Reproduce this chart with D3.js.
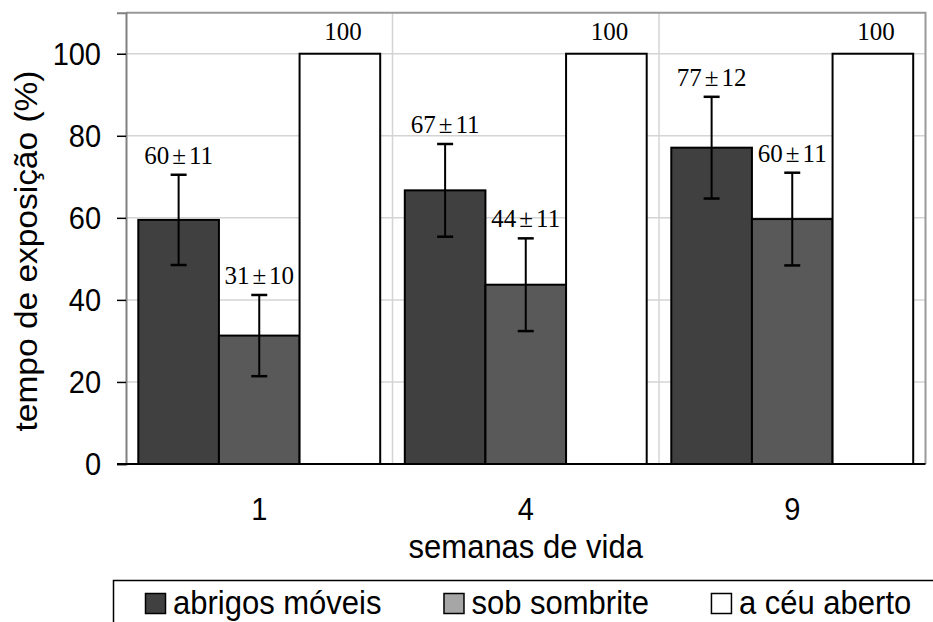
<!DOCTYPE html>
<html>
<head>
<meta charset="utf-8">
<script src="https://cdn.jsdelivr.net/npm/d3@7"></script>
<style>
html,body{margin:0;padding:0;background:#fff;}
svg{display:block;}
</style>
</head>
<body>
<svg id="chart" width="933" height="622"></svg>
<script>
// ---- data ----
const weeks = ["1", "4", "9"];
const seriesNames = ["abrigos móveis", "sob sombrite", "a céu aberto"];
const abrigosMoveis = [59.5, 66.7, 77.1];
const sobSombrite = [31.3, 43.7, 59.7];
const ceuAberto = [100, 100, 100];
const abrigosErr = [11, 11.3, 12.4];
const sombriteErr = [9.9, 11.3, 11.3];
const ceuErr = [0, 0, 0];
const abrigosLabels = ["60±11", "67±11", "77±12"];
const sombriteLabels = ["31±10", "44±11", "60±11"];
const ceuLabels = ["100", "100", "100"];
const yTicks = [0, 20, 40, 60, 80, 100];

// ---- styles ----
const barFill = ["#404040", "#595959", "#ffffff"];
const legendFill = ["#404040", "#a6a6a6", "#ffffff"];
const sans = "'Liberation Sans', Arial, sans-serif";
const serif = "'Liberation Serif', 'Times New Roman', serif";
const VS = 1.08; // vertical stretch of sans text seen in reference

const series = [
  {name: seriesNames[0], values: abrigosMoveis, err: abrigosErr, labels: abrigosLabels},
  {name: seriesNames[1], values: sobSombrite, err: sombriteErr, labels: sombriteLabels},
  {name: seriesNames[2], values: ceuAberto, err: ceuErr, labels: ceuLabels}
];

function stretch(sel) {
  sel.each(function() {
    const t = d3.select(this);
    const tx = +t.attr("x") || 0, ty = +t.attr("y") || 0;
    t.attr("x", 0).attr("y", 0).attr("transform", `translate(${tx},${ty}) scale(1,${VS})`);
  });
}

const svg = d3.select("#chart");
const plot = {left: 126, right: 925.5, top: 12.7, bottom: 464};

const x = d3.scaleBand().domain(weeks).range([plot.left, plot.right]).paddingInner(0).paddingOuter(0);
const xs = d3.scaleBand().domain(d3.range(series.length))
  .range([12.3, x.bandwidth() - 12.3]).paddingInner(0).paddingOuter(0);
const y = d3.scaleLinear().domain([0, 110]).range([plot.bottom, plot.top]);

// horizontal gridlines
svg.append("g").selectAll("line").data(yTicks.filter(d => d > 0)).join("line")
  .attr("x1", plot.left).attr("x2", plot.right)
  .attr("y1", d => y(d)).attr("y2", d => y(d))
  .attr("stroke", "#d4d4d4").attr("stroke-width", 1.5);

// vertical gridlines at category boundaries
svg.append("g").selectAll("line").data(weeks.slice(1)).join("line")
  .attr("x1", d => x(d)).attr("x2", d => x(d))
  .attr("y1", plot.top).attr("y2", plot.bottom)
  .attr("stroke", "#d4d4d4").attr("stroke-width", 1.5);

// frame top and right
svg.append("path")
  .attr("d", `M${plot.left},${plot.top}H${plot.right}V${plot.bottom}`)
  .attr("fill", "none").attr("stroke", "#999").attr("stroke-width", 2);

// bars
const groups = svg.append("g").selectAll("g").data(weeks).join("g")
  .attr("transform", d => `translate(${x(d)},0)`);

groups.each(function(w, i) {
  const g = d3.select(this);
  series.forEach((s, k) => {
    g.append("rect")
      .attr("x", xs(k)).attr("width", xs.bandwidth())
      .attr("y", y(s.values[i])).attr("height", y(0) - y(s.values[i]))
      .attr("fill", barFill[k]).attr("stroke", "#000").attr("stroke-width", 2);
  });
});

// error bars & labels
groups.each(function(w, i) {
  const g = d3.select(this);
  series.forEach((s, k) => {
    const cx = xs(k) + xs.bandwidth() / 2;
    const v = s.values[i], e = s.err[i];
    if (e > 0) {
      g.append("line").attr("x1", cx).attr("x2", cx)
        .attr("y1", y(v + e)).attr("y2", y(v - e))
        .attr("stroke", "#000").attr("stroke-width", 2);
      [v + e, v - e].forEach(t => {
        g.append("line").attr("x1", cx - 8).attr("x2", cx + 8)
          .attr("y1", y(t)).attr("y2", y(t))
          .attr("stroke", "#000").attr("stroke-width", 2.5);
      });
    }
    const txt = g.append("text")
      .attr("x", cx + (e > 0 ? 0 : 3))
      .attr("y", y(v + e) - (e > 0 ? 11 : 14))
      .attr("text-anchor", "middle")
      .attr("font-family", serif).attr("font-size", 25)
      .attr("fill", "#000");
    const parts = s.labels[i].split("±");
    txt.append("tspan").text(parts[0]);
    if (parts.length > 1) {
      txt.append("tspan").attr("dx", 3).text("±");
      txt.append("tspan").attr("dx", 3).text(parts[1]);
    }
  });
});

// y axis
const yAxis = d3.axisLeft(y).tickValues(yTicks).tickSize(9).tickPadding(16).tickFormat(d3.format("d"));
const ya = svg.append("g").attr("transform", `translate(${plot.left},0)`).call(yAxis);
ya.select(".domain").attr("stroke", "#808080").attr("stroke-width", 2);
ya.selectAll(".tick line").attr("stroke", "#000").attr("stroke-width", 1.5);
ya.selectAll(".tick text").attr("font-family", sans).attr("font-size", 29).attr("fill", "#000")
  .attr("dy", null).attr("y", 10.5);
stretch(ya.selectAll(".tick text"));

// x axis baseline
svg.append("line").attr("x1", plot.left - 9).attr("x2", plot.right)
  .attr("y1", y(0)).attr("y2", y(0)).attr("stroke", "#000").attr("stroke-width", 2);

// x labels
const xAxis = d3.axisBottom(x).tickSize(0);
const xa = svg.append("g").attr("transform", `translate(0,${plot.bottom})`).call(xAxis);
xa.select(".domain").remove();
xa.selectAll(".tick text").attr("font-family", sans).attr("font-size", 29).attr("fill", "#000")
  .attr("dy", null).attr("y", 56);
stretch(xa.selectAll(".tick text"));

// axis titles
const xt = svg.append("text").attr("x", (plot.left + plot.right) / 2).attr("y", 558)
  .attr("text-anchor", "middle").attr("font-family", sans).attr("font-size", 31)
  .text("semanas de vida");
stretch(xt);
svg.append("text").attr("transform", `translate(37,251) scale(1,${VS}) rotate(-90)`)
  .attr("text-anchor", "middle").attr("font-family", sans).attr("font-size", 31)
  .text("tempo de exposição (%)");

// legend
svg.append("rect").attr("x", 113.5).attr("y", 580.5).attr("width", 850).attr("height", 80)
  .attr("fill", "none").attr("stroke", "#000").attr("stroke-width", 1.5);
let lx = 145;
seriesNames.forEach((n, k) => {
  svg.append("rect").attr("x", lx + 0.5).attr("y", 593.5).attr("width", 20).attr("height", 20)
    .attr("fill", legendFill[k]).attr("stroke", "#000").attr("stroke-width", 1.5);
  const t = svg.append("text").attr("x", lx + 28).attr("y", 614)
    .attr("font-family", sans).attr("font-size", 31).attr("fill", "#000").text(n);
  const w = t.node().getComputedTextLength();
  stretch(t);
  lx = lx + 28 + w + 62;
});
</script>
</body>
</html>
